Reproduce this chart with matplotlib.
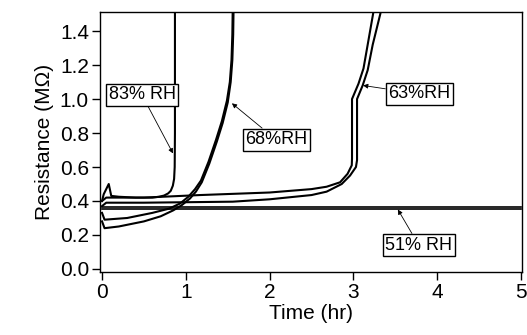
"""
Resistance vs time at several relative humidities
"""

import matplotlib
matplotlib.use("Agg")
import matplotlib.pyplot as plt
import numpy as np

plt.rcParams['font.family'] = ['Liberation Sans', 'DejaVu Sans']

# 83% RH
t_83 = np.array([0.0, 0.02, 0.05, 0.08, 0.11, 0.2, 0.4, 0.6, 0.68, 0.74, 0.79, 0.82, 0.845, 0.86, 0.867, 0.87, 0.87])
r_83 = np.array([0.40, 0.44, 0.47, 0.50, 0.43, 0.425, 0.42, 0.42, 0.425, 0.432, 0.445, 0.46, 0.49, 0.53, 0.60, 0.8, 1.55])

# 68% RH (two runs)
t_68a = np.array([0.0, 0.03, 0.2, 0.5, 0.7, 0.85, 0.95, 1.05, 1.12, 1.19, 1.28, 1.37, 1.44, 1.5, 1.535, 1.555, 1.565, 1.57])
r_68a = np.array([0.28, 0.24, 0.25, 0.28, 0.31, 0.345, 0.375, 0.415, 0.455, 0.51, 0.62, 0.75, 0.86, 0.98, 1.10, 1.23, 1.38, 1.55])
t_68b = np.array([0.0, 0.03, 0.3, 0.6, 0.8, 0.93, 1.03, 1.11, 1.18, 1.27, 1.36, 1.43, 1.49, 1.525, 1.545, 1.555, 1.56])
r_68b = np.array([0.33, 0.29, 0.30, 0.33, 0.355, 0.385, 0.425, 0.47, 0.52, 0.63, 0.76, 0.87, 0.99, 1.10, 1.23, 1.38, 1.55])

# 63% RH (two runs)
t_63a = np.array([0.0, 0.05, 0.5, 1.17, 2.0, 2.5, 2.68, 2.84, 2.93, 2.98, 2.983, 2.983, 3.06, 3.12, 3.17, 3.234, 3.25])
r_63a = np.array([0.40, 0.42, 0.42, 0.435, 0.45, 0.47, 0.484, 0.51, 0.56, 0.61, 0.65, 1.0, 1.09, 1.18, 1.32, 1.50, 1.55])
t_63b = np.array([0.0, 0.05, 0.5, 1.56, 2.0, 2.5, 2.68, 2.86, 2.96, 3.03, 3.043, 3.043, 3.11, 3.17, 3.23, 3.32, 3.34])
r_63b = np.array([0.37, 0.39, 0.39, 0.396, 0.41, 0.435, 0.455, 0.50, 0.55, 0.60, 0.64, 1.0, 1.08, 1.17, 1.32, 1.50, 1.55])

# 51% RH (two runs)
t_51 = np.array([0.0, 1.0, 2.0, 3.0, 4.0, 5.0])
r_51a = np.array([0.363, 0.363, 0.363, 0.363, 0.363, 0.363])
r_51b = np.array([0.350, 0.350, 0.350, 0.350, 0.350, 0.350])

fig = plt.figure(figsize=(5.27, 3.35), dpi=100)
ax = fig.add_axes([0.1898, 0.188, 0.8008, 0.776])

ax.plot(t_51, r_51a, c='k', lw=1.2)
ax.plot(t_51, r_51b, c='k', lw=1.2)
ax.plot(t_63a, r_63a, c='k', lw=1.5)
ax.plot(t_63b, r_63b, c='k', lw=1.5)
ax.plot(t_68a, r_68a, c='k', lw=1.5)
ax.plot(t_68b, r_68b, c='k', lw=1.5)
ax.plot(t_83, r_83, c='k', lw=1.5)

ax.set_xlim(-0.024, 5.012)
ax.set_ylim(-0.018, 1.512)
ax.set_xticks(np.arange(0, 6, 1))
ax.set_yticks(np.arange(0, 1.41, 0.2))
ax.set_yticklabels(["%.1f" % v for v in np.arange(0, 1.41, 0.2)])
ax.tick_params(direction='out', length=6, width=1, labelsize=15, pad=2)
for s in ax.spines.values():
    s.set_linewidth(1)

ax.set_xlabel("Time (hr)", fontsize=15, labelpad=1)
ax.set_ylabel("Resistance (M\u03a9)", fontsize=15, labelpad=4)

box = dict(boxstyle='square,pad=0.15', fc='white', ec='k', lw=1)
arrow = dict(arrowstyle='-|>', lw=0.6, color='k', mutation_scale=7, shrinkA=0, shrinkB=0)
ax.annotate("83% RH", xy=(0.847, 0.68), xytext=(0.477, 1.024), fontsize=13,
            ha='center', va='center', bbox=box, arrowprops=arrow)
ax.annotate("68%RH", xy=(1.55, 0.975), xytext=(2.08, 0.76), fontsize=13,
            ha='center', va='center', bbox=box, arrowprops=arrow)
ax.annotate("63%RH", xy=(3.115, 1.08), xytext=(3.79, 1.03), fontsize=13,
            ha='center', va='center', bbox=box, arrowprops=arrow)
ax.annotate("51% RH", xy=(3.53, 0.35), xytext=(3.78, 0.14), fontsize=13,
            ha='center', va='center', bbox=box, arrowprops=arrow)

fig.savefig("out.png", dpi=100)
